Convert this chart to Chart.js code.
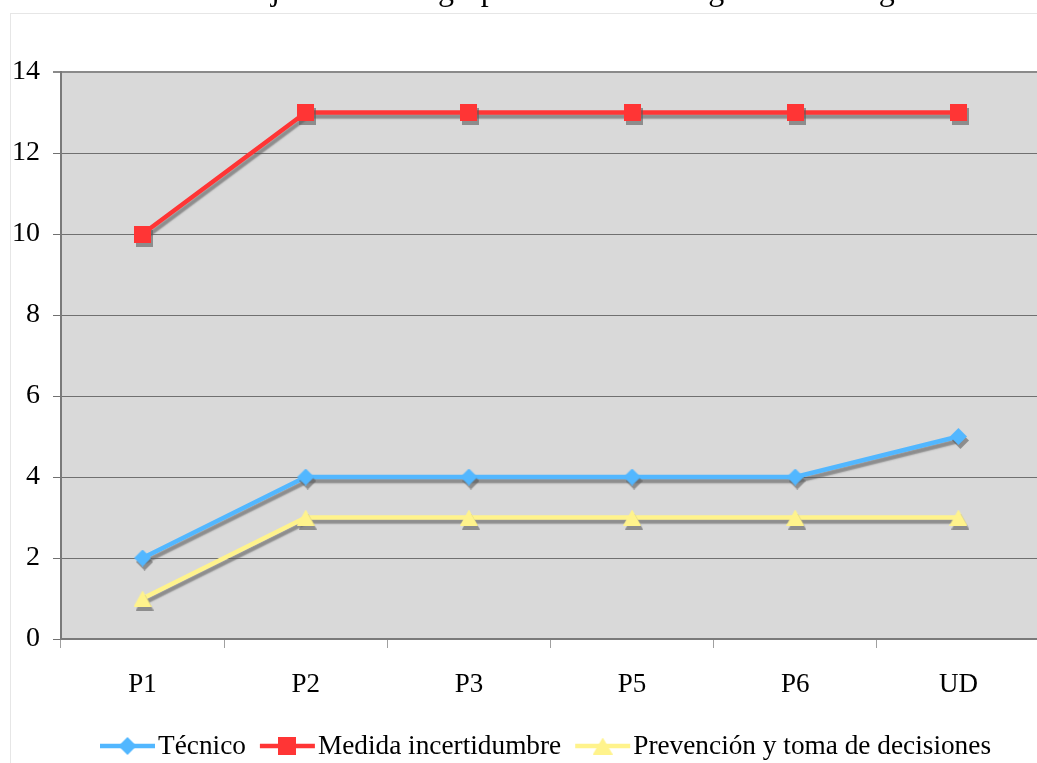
<!DOCTYPE html>
<html><head><meta charset="utf-8">
<script src="https://cdn.jsdelivr.net/npm/chart.js@4.4.1/dist/chart.umd.min.js"></script>
<style>html,body{margin:0;padding:0;background:#fff;overflow:hidden;width:1037px;height:763px}
#wrap{position:relative;width:1045px;height:763px}</style></head>
<body><div id="wrap"><canvas id="c" width="1045" height="763"></canvas></div>
<script>
const categories = ['P1', 'P2', 'P3', 'P5', 'P6', 'UD'];
const tecnico = [2, 4, 4, 4, 4, 5];
const medida = [10, 13, 13, 13, 13, 13];
const prevencion = [1, 3, 3, 3, 3, 3];
const seriesNames = ['Técnico', 'Medida incertidumbre', 'Prevención y toma de decisiones'];
const yTicks = [0, 2, 4, 6, 8, 10, 12, 14];
const titleText = 'Trabajo de todo el grupo en las tres categorías de riesgo';

const FONT = '"Liberation Serif","Times New Roman",serif';
const colors = ['#52b7ff', '#ff3535', '#fff38c'];

function marker(shape, color, w, h) {
  const c = document.createElement('canvas');
  c.width = w; c.height = h;
  const x = c.getContext('2d');
  x.fillStyle = color;
  x.beginPath();
  if (shape === 'diamond') { x.moveTo(w/2, 0); x.lineTo(w, h/2); x.lineTo(w/2, h); x.lineTo(0, h/2); }
  else if (shape === 'square') { x.rect(0, 0, w, h); }
  else { x.moveTo(w/2, 0); x.lineTo(w, h); x.lineTo(0, h); }
  x.closePath(); x.fill();
  return c;
}
const markers = [marker('diamond', colors[0], 17, 17), marker('square', colors[1], 17, 17), marker('triangle', colors[2], 18, 16)];
const legendMarkers = [marker('diamond', colors[0], 18, 18), marker('square', colors[1], 18, 18), marker('triangle', colors[2], 20, 17)];

const bgPlugin = {
  id: 'bg',
  beforeDraw(chart) {
    const ctx = chart.ctx, a = chart.chartArea;
    ctx.save();
    ctx.fillStyle = '#fff';
    ctx.fillRect(0, 0, chart.width, chart.height);
    ctx.strokeStyle = '#e6e6e6';
    ctx.lineWidth = 1;
    ctx.strokeRect(10.5, 13.5, 2000, 2000);
    ctx.fillStyle = '#d9d9d9';
    ctx.fillRect(a.left, a.top, a.right - a.left, a.bottom - a.top);
    ctx.restore();
  }
};
const shadowPlugin = {
  id: 'shadow',
  beforeDatasetsDraw(chart) {
    const ctx = chart.ctx; ctx.save();
    ctx.shadowColor = 'rgba(90,90,90,0.6)';
    ctx.shadowOffsetX = 2; ctx.shadowOffsetY = 4; ctx.shadowBlur = 1.5;
  },
  afterDatasetsDraw(chart) { chart.ctx.restore(); }
};
const titlePlugin = {
  id: 'ttl',
  afterDraw(chart) {
    const ctx = chart.ctx; ctx.save();
    ctx.font = '32px ' + FONT;
    ctx.fillStyle = '#000';
    ctx.textBaseline = 'alphabetic';
    ctx.textAlign = 'left';
    const x0 = 271 - ctx.measureText('Traba').width;
    ctx.fillText(titleText, x0, 0);
    ctx.restore();
  }
};
const legendPlugin = {
  id: 'lg',
  afterDraw(chart) {
    const ctx = chart.ctx; ctx.save();
    ctx.font = '27.3px ' + FONT;
    ctx.textBaseline = 'middle';
    ctx.textAlign = 'left';
    const y = 746;
    let x = 100;
    seriesNames.forEach((name, i) => {
      ctx.strokeStyle = colors[i]; ctx.lineWidth = 4.5;
      ctx.beginPath(); ctx.moveTo(x, y); ctx.lineTo(x + 55, y); ctx.stroke();
      const m = legendMarkers[i];
      ctx.drawImage(m, x + 27.5 - m.width/2, y - m.height/2);
      ctx.fillStyle = '#000';
      ctx.fillText(name, x + 58, y + 1);
      x = x + 58 + ctx.measureText(name).width + 14;
    });
    ctx.restore();
  }
};

const data = {
  labels: categories,
  datasets: [tecnico, medida, prevencion].map((d, i) => ({
    label: seriesNames[i], data: d,
    borderColor: colors[i], backgroundColor: colors[i],
    borderWidth: 4.5, pointStyle: markers[i], pointRadius: 8, tension: 0, fill: false
  }))
};

new Chart(document.getElementById('c'), {
  type: 'line',
  data,
  options: {
    responsive: false, animation: false, devicePixelRatio: 1,
    layout: { autoPadding: false, padding: { top: 72, right: 5, left: 0, bottom: 0 } },
    plugins: { legend: { display: false }, title: { display: false }, tooltip: { enabled: false } },
    scales: {
      x: {
        type: 'category', offset: true,
        grid: { offset: true, drawOnChartArea: false, drawTicks: true, tickLength: 9, color: '#a0a0a0', lineWidth: 1 },
        border: { display: true, color: '#7a7a7a', width: 2 },
        ticks: { font: { family: FONT, size: 27 }, color: '#000', padding: 21, maxRotation: 0, autoSkip: false },
        afterFit(s) { s.height = 124; s.paddingLeft = 0; s.paddingRight = 0; }
      },
      y: {
        min: 0, max: 14,
        afterBuildTicks(s) { s.ticks = yTicks.map(v => ({ value: v })); },
        grid: { color: (c) => c.tick && c.tick.value === 14 ? '#8a8a8a' : '#707070', lineWidth: (c) => c.tick && c.tick.value === 14 ? 2 : 1, tickLength: 8 },
        border: { color: '#7a7a7a', width: 2 },
        ticks: { font: { family: FONT, size: 28 }, color: '#000', padding: 13 },
        afterFit(s) { s.width = 61; s.paddingTop = 0; s.paddingBottom = 0; }
      }
    }
  },
  plugins: [bgPlugin, shadowPlugin, titlePlugin, legendPlugin]
});
</script></body></html>
